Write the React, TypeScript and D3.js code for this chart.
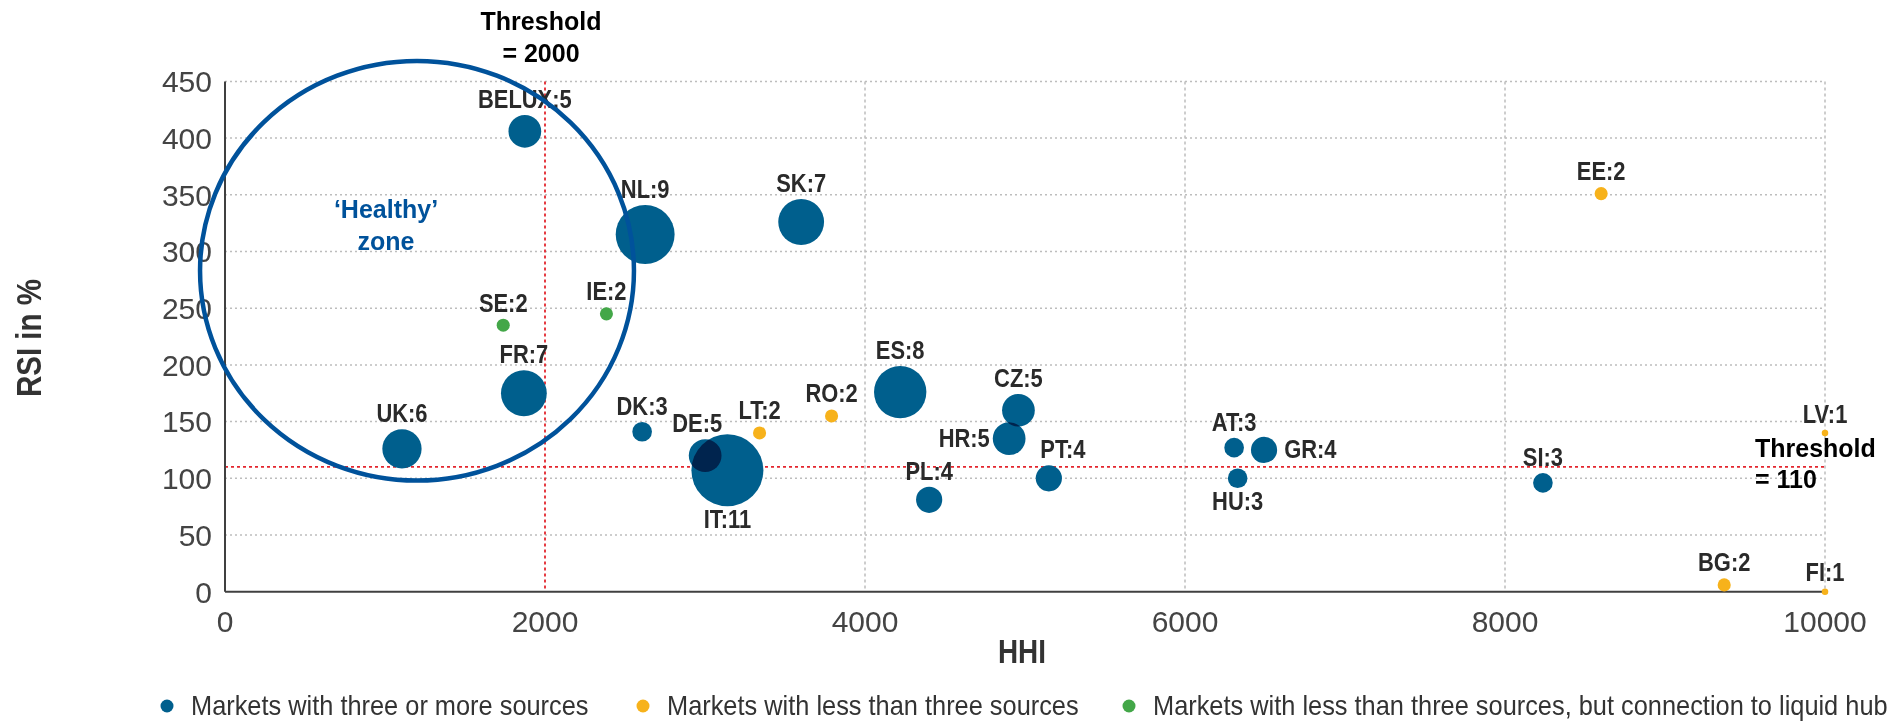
import React from "react";
import * as d3 from "d3";

// ---------- data ----------
const markets = ["BELUX", "NL", "SK", "EE", "SE", "IE", "FR", "UK", "DK", "DE", "IT", "LT", "RO", "ES", "CZ", "HR", "PL", "PT", "AT", "GR", "HU", "SI", "LV", "BG", "FI"];
const hhiValues = [1874, 2626, 3601, 8601, 1739, 2384, 1868, 1106, 2607, 3001, 3140, 3341, 3791, 4220, 4959, 4901, 4401, 5149, 6307, 6494, 6329, 8237, 10000, 9370, 10000];
const rsiValues = [406, 315, 326, 351, 235, 245, 175, 126, 141, 120, 107, 140, 155, 176, 160, 135, 81, 100, 127, 125, 100, 96, 140, 6, 0];
const sourceCounts = [5, 9, 7, 2, 2, 2, 7, 6, 3, 5, 11, 2, 2, 8, 5, 5, 4, 4, 3, 4, 3, 3, 1, 2, 1];
// 0 = three or more sources, 1 = less than three, 2 = less than three + liquid hub
const groups = [0, 0, 0, 1, 2, 2, 0, 0, 0, 0, 0, 1, 1, 0, 0, 0, 0, 0, 0, 0, 0, 0, 1, 1, 1];
const legendLabels = [
  "Markets with three or more sources",
  "Markets with less than three sources",
  "Markets with less than three sources, but connection to liquid hub",
];
const xTicks = [0, 2000, 4000, 6000, 8000, 10000];
const yTicks = [0, 50, 100, 150, 200, 250, 300, 350, 400, 450];
const hhiThreshold = 2000;
const rsiThreshold = 110;
// healthy zone ellipse in data units: centre HHI, centre RSI, half-width HHI, half-height RSI
const healthyZone = [1200, 283, 1356, 185];

// ---------- styles ----------
const groupColors = ["#005f8d", "#f7b21b", "#43a748"];
const labelPlacement: Record<string, string> = { IT: "bottom", HU: "bottom", HR: "left", GR: "right" };
const labelShift: Record<string, number> = { PT: 14, DE: -8 };
const FONT = "'Liberation Sans', Arial, sans-serif";

function SText(props: any) {
  const { x, y, sx = 1, children, rotate = 0, ...rest } = props;
  return (
    <text transform={`translate(${x},${y}) rotate(${rotate}) scale(${sx},1)`} x={0} y={0} fontFamily={FONT} {...rest}>
      {children}
    </text>
  );
}

export default function App() {
  const W = 1903, H = 721;
  const x = d3.scaleLinear().domain([0, 10000]).range([225, 1825]);
  const y = d3.scaleLinear().domain([0, 450]).range([591.7, 81.4]);
  const r = d3.scaleLinear().domain([0, 11]).range([0, 36]);

  const data = markets.map((m, i) => ({
    name: m,
    hhi: hhiValues[i],
    rsi: rsiValues[i],
    n: sourceCounts[i],
    g: groups[i],
  }));

  const [x0, x1] = x.range();
  const yTop = y(450), yBot = y(0);

  const legendX = [167, 643, 1129];

  return (
    <svg width={W} height={H} style={{ position: "absolute", left: 0, top: 0, background: "#fff" }}>
      {/* grid */}
      {yTicks.filter((t) => t > 0).map((t) => (
        <line key={"gy" + t} x1={x0} x2={x1} y1={y(t)} y2={y(t)} stroke="#bdbdbd" strokeWidth={1.5} strokeDasharray="2 3" />
      ))}
      {xTicks.filter((t) => t > 0 && t !== hhiThreshold).map((t) => (
        <line key={"gx" + t} x1={x(t)} x2={x(t)} y1={yTop} y2={yBot} stroke="#bdbdbd" strokeWidth={1.5} strokeDasharray="3 3" />
      ))}
      {/* thresholds */}
      <line x1={x(hhiThreshold)} x2={x(hhiThreshold)} y1={yTop} y2={yBot} stroke="#e3262e" strokeWidth={1.8} strokeDasharray="3 3" />
      <line x1={x0} x2={x1} y1={y(rsiThreshold)} y2={y(rsiThreshold)} stroke="#e3262e" strokeWidth={1.8} strokeDasharray="3 3" />
      {/* axes */}
      <line x1={x0} x2={x0} y1={yTop} y2={yBot} stroke="#404040" strokeWidth={2} />
      <line x1={x0} x2={x1} y1={yBot} y2={yBot} stroke="#404040" strokeWidth={2} />
      {yTicks.map((t) => (
        <text key={"ty" + t} x={212} y={y(t)} dy="0.36em" textAnchor="end" fontFamily={FONT} fontSize={30} fill="#444">
          {t}
        </text>
      ))}
      {xTicks.map((t) => (
        <text key={"tx" + t} x={x(t)} y={632} textAnchor="middle" fontFamily={FONT} fontSize={30} fill="#444">
          {t}
        </text>
      ))}
      <SText x={1022} y={663} sx={0.82} textAnchor="middle" fontWeight="bold" fontSize={34} fill="#333">HHI</SText>
      <SText x={41} y={338} rotate={-90} sx={0.82} textAnchor="middle" fontWeight="bold" fontSize={36} fill="#333">RSI in %</SText>

      {/* bubbles */}
      <g style={{ isolation: "isolate" }}>
        {data.map((d) => (
          <circle key={d.name} cx={x(d.hhi)} cy={y(d.rsi)} r={r(d.n)} fill={groupColors[d.g]} style={{ mixBlendMode: "multiply" }} />
        ))}
      </g>
      {/* labels */}
      {data.map((d) => {
        const cx = x(d.hhi), cy = y(d.rsi), rr = r(d.n);
        const p = labelPlacement[d.name] || "top";
        let lx = cx + (labelShift[d.name] || 0), ly = cy - rr - 7, anchor = "middle";
        if (p === "bottom") ly = cy + rr + 22;
        if (p === "left") { lx = cx - rr - 3; ly = cy + 8; anchor = "end"; }
        if (p === "right") { lx = cx + rr + 7; ly = cy + 8; anchor = "start"; }
        return (
          <SText key={"l" + d.name} x={lx} y={ly} sx={0.86} textAnchor={anchor} fontWeight="bold" fontSize={25.5} fill="#2a2a2a">
            {d.name}:{d.n}
          </SText>
        );
      })}

      {/* healthy zone */}
      <ellipse
        cx={x(healthyZone[0])}
        cy={y(healthyZone[1])}
        rx={x(healthyZone[0] + healthyZone[2]) - x(healthyZone[0])}
        ry={y(healthyZone[1] - healthyZone[3]) - y(healthyZone[1])}
        fill="none"
        stroke="#00529b"
        strokeWidth={4.5}
      />
      <text x={386} y={218} textAnchor="middle" fontFamily={FONT} fontWeight="bold" fontSize={25} fill="#00529b">‘Healthy’</text>
      <text x={386} y={250} textAnchor="middle" fontFamily={FONT} fontWeight="bold" fontSize={25} fill="#00529b">zone</text>

      {/* threshold annotations */}
      <text x={x(hhiThreshold) - 4} y={30} textAnchor="middle" fontFamily={FONT} fontWeight="bold" fontSize={25} fill="#000">Threshold</text>
      <text x={x(hhiThreshold) - 4} y={62} textAnchor="middle" fontFamily={FONT} fontWeight="bold" fontSize={25} fill="#000">= 2000</text>
      <text x={1755} y={y(rsiThreshold) - 10} fontFamily={FONT} fontWeight="bold" fontSize={25} fill="#000">Threshold</text>
      <text x={1755} y={y(rsiThreshold) + 21} fontFamily={FONT} fontWeight="bold" fontSize={25} fill="#000">= 110</text>

      {/* legend */}
      {legendLabels.map((l, i) => (
        <g key={"lg" + i}>
          <circle cx={legendX[i]} cy={706} r={6.5} fill={groupColors[i]} />
          <SText x={legendX[i] + 24} y={715} sx={0.94} fontSize={27} fill="#333">{l}</SText>
        </g>
      ))}
    </svg>
  );
}
